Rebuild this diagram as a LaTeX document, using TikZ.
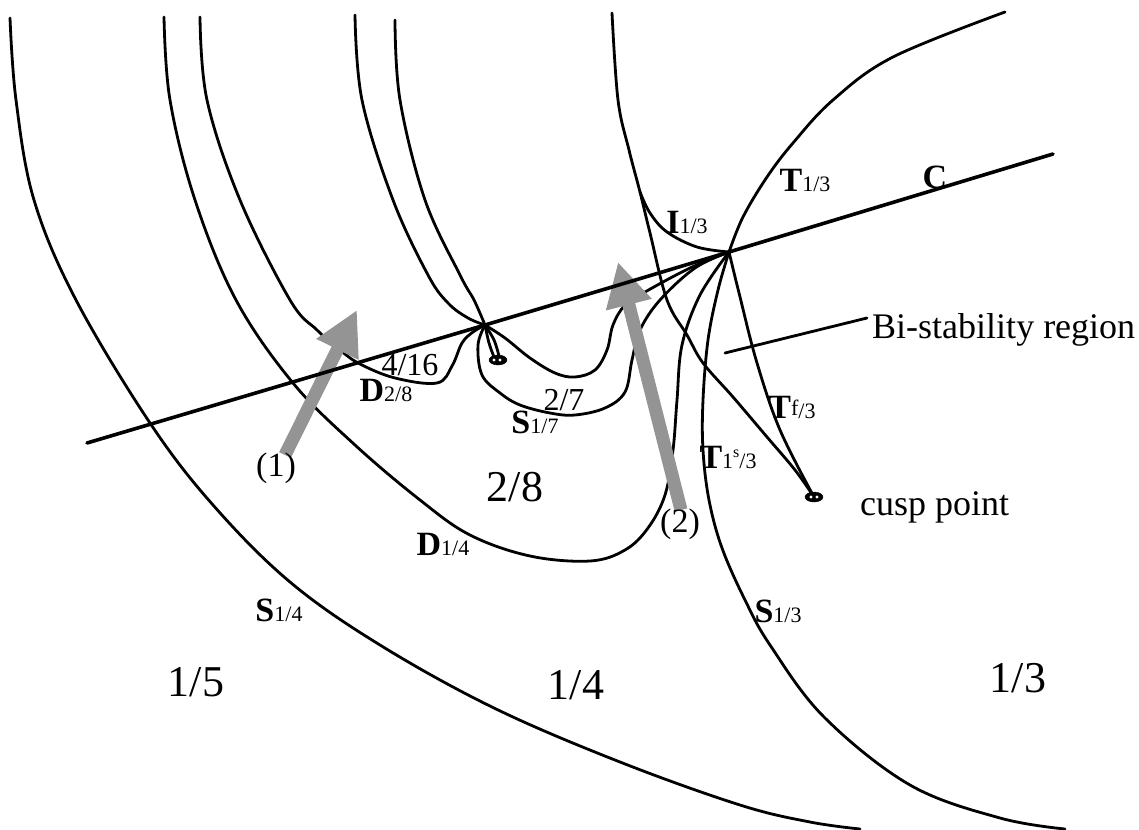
\documentclass[tikz,border=0pt]{standalone}
\usepackage{fontspec}
\setmainfont{Liberation Serif}
\usetikzlibrary{arrows.meta,calc}
\newcommand{\mylab}[2]{\textbf{#1}{\fontsize{22}{24}\selectfont #2}}
\begin{document}
\begin{tikzpicture}[x=1pt,y=-1pt,
  curve/.style={line width=2.8pt, line cap=round, line join=round},
  thickline/.style={line width=3.6pt, line cap=round},
  garrow/.style={line width=13pt, draw=black!42, -{Triangle[length=44pt,width=44pt]}},
  big/.style={font=\fontsize{44}{48}\selectfont, inner sep=0pt},
  mid/.style={font=\fontsize{34}{38}\selectfont, inner sep=0pt},
  txt/.style={font=\fontsize{36}{40}\selectfont, inner sep=0pt},
  frac/.style={font=\fontsize{32}{36}\selectfont, inner sep=0pt}]
\useasboundingbox (0,0) rectangle (1139,829);
\coordinate (P) at (729,252);
\coordinate (Q) at (485,325);
\coordinate (K) at (640,192);
\coordinate (cusp) at (814,497);
% S 1/4
\draw[curve] plot[smooth,tension=0.6] coordinates {(10,18) (16,100) (34,200) (76,300) (150,423) (213,505) (290,582) (380,645) (494,708) (620,762) (740,805) (810,822) (860,829)};
% D 1/4
\draw[curve] plot[smooth,tension=0.6] coordinates {(164,17) (170,100) (195,200) (236,300) (293,383) (355,445) (420,500) (470,535) (530,556) (590,561) (625,550) (648,528) (665,495) (673,450) (677,400) (682,345) (700,295) (729,252)};
% D 2/8
\draw[curve] plot[smooth,tension=0.6] coordinates {(200,17) (207,100) (240,200) (290,300) (317,330) (340,350) (360,364) (395,378) (437,383) (452,366) (462,343) (473,332) (485,325)};
% two upper curves ending at Q
\draw[curve] plot[smooth,tension=0.6] coordinates {(355,15) (362,100) (393,200) (428,275) (448,303) (468,318) (485,325)};
\draw[curve] plot[smooth,tension=0.6] coordinates {(395,20) (400,100) (425,200) (460,275) (474,300) (485,325)};
% small cusp near Q
\draw[curve] plot[smooth,tension=0.6] coordinates {(485,325) (489,343) (494,357)};
\draw[curve] plot[smooth,tension=0.6] coordinates {(485,325) (494,340) (499,356)};
\filldraw[black] (498,360) ellipse [x radius=9pt, y radius=5pt];
\fill[white] (494,360) circle [radius=1.6pt];
\fill[white] (500,360) circle [radius=1.6pt];
% S 1/7 loop
\draw[curve] plot[smooth,tension=0.6] coordinates {(485,325) (478,345) (482,375) (500,393) (520,405) (550,413) (575,415) (605,408) (625,392) (632,360) (640,330) (660,300) (695,268) (729,252)};
% inner loop
\draw[curve] plot[smooth,tension=0.6] coordinates {(485,325) (505,338) (530,358) (555,373) (575,377) (595,370) (607,350) (613,325) (625,305) (645,292) (690,268) (729,252)};
% I 1/3 and T^s
\draw[curve] plot[smooth,tension=0.6] coordinates {(612,13) (618,100) (629,150) (640,192) (650,233) (667,300) (687,335) (703,363) (733,397) (767,437) (795,470) (814,497)};
\draw[curve] plot[smooth,tension=0.6] coordinates {(640,192) (650,213) (667,232) (697,247) (729,252)};
% T^f
\draw[curve] plot[smooth,tension=0.6] coordinates {(729,252) (740,297) (757,363) (780,430) (814,497)};
% S 1/3
\draw[curve] plot[smooth,tension=0.6] coordinates {(729,252) (718,290) (708,340) (703,400) (703,450) (709,500) (722,548) (745,600) (770,645) (824,717) (910,785) (1000,818) (1065,829)};
% T 1/3
\draw[curve] plot[smooth,tension=0.6] coordinates {(729,252) (743,217) (767,177) (793,143) (833,100) (893,57) (1005,12)};
\filldraw[black] (cusp) ellipse [x radius=9pt, y radius=5pt];
\fill[white] (811,497) circle [radius=1.6pt];
\fill[white] (817,497) circle [radius=1.6pt];
% shaded arrows
\coordinate (a1s) at (285,455);
\coordinate (a1e) at (357,310);
\coordinate (a2s) at (681,510);
\coordinate (a2e) at (618,262);
\draw[garrow] (a1s) -- (a1e);
\draw[garrow] (a2s) -- (a2e);
% line C
\coordinate (c0) at (87,443);
\coordinate (c1) at (1053,154);
\draw[thickline] (c0) -- (Q) -- (P) -- (c1);
% bi-stability pointer
\coordinate (b0) at (725,353);
\coordinate (b1) at (867,318);
\draw[curve] (b0) -- (b1);
% labels
\node[txt, anchor=base west] (lbi) at (872,338) {Bi-stability region};
\node[txt, anchor=base west] (lcusp) at (860,515) {cusp point};
\node[mid] (lT) at (805,180) {\mylab{T}{1/3}};
\node[mid] (lC) at (935,177) {\textbf{C}};
\node[mid] (lI) at (687,222) {\mylab{I}{1/3}};
\node[mid] (lTf) at (792,407) {\textbf{T}{\fontsize{22}{24}\selectfont\raisebox{3pt}{f}/3}};
\node[mid] (lTs) at (728,457) {\textbf{T}{\fontsize{22}{24}\selectfont 1\raisebox{11pt}{\fontsize{16}{18}\selectfont s}/3}};
\node[mid] (lS7) at (535,422) {\mylab{S}{1/7}};
\node[frac] (l27) at (564,400) {2/7};
\node[frac] (l416) at (410,365) {4/16};
\node[mid] (lD28) at (386,390) {\mylab{D}{2/8}};
\node[mid] (l1) at (276,468) {(1)};
\node[mid] (l2) at (680,524) {(2)};
\node[big] (l28) at (515,487) {2/8};
\node[mid] (lD14) at (443,544) {\mylab{D}{1/4}};
\node[mid] (lS14) at (279,610) {\mylab{S}{1/4}};
\node[mid] (lS13) at (778,611) {\mylab{S}{1/3}};
\node[big] (l15) at (196,682) {1/5};
\node[big] (l14) at (576,685) {1/4};
\node[big] (l13) at (1018,678) {1/3};
\end{tikzpicture}
\end{document}
